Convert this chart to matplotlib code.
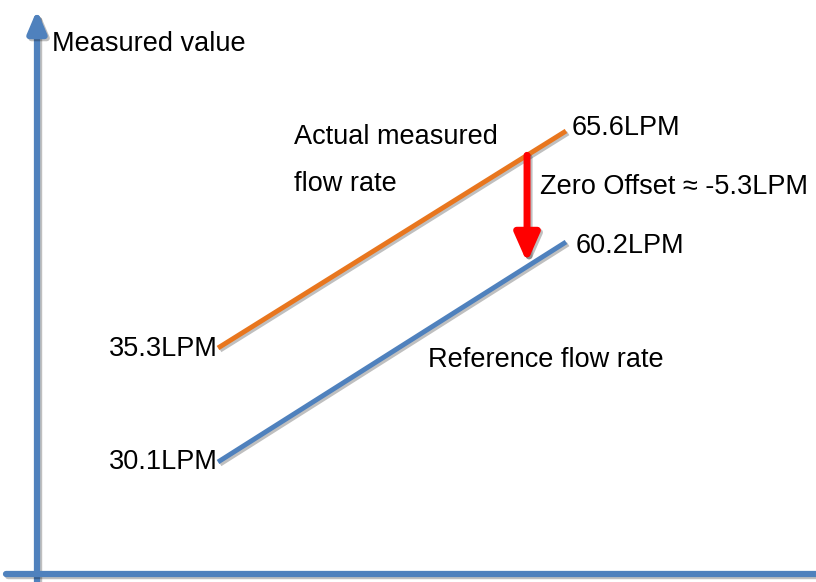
"""Zero offset sketch: actual vs reference flow rate, two parallel lines with an offset arrow."""

import matplotlib
matplotlib.use("Agg")
import matplotlib.pyplot as plt
import matplotlib.patheffects as pe
import numpy as np

# endpoints along the (unlabelled) x direction
T = [0.0, 1.0]
ACTUAL_LPM = [35.3, 65.6]
REFERENCE_LPM = [30.1, 60.2]
OFFSET_LPM = -5.3
ARROW_T = 0.888

ORANGE = "#E8761E"
BLUE = "#4F81BD"
RED = "#FF0000"

W, H = 816, 582

# schematic y scale: stretch the gap between the two lines so the offset reads clearly
SCALE_V = [0.0, 30.1, 35.3, 60.2, 65.6, 100.0]
SCALE_H = [120, 120, 234, 340, 451, 451]
SCALE_H[0] = 120 - 30.1 * (114 / 5.2)
SCALE_H[-1] = 451 + 34.4 * (111 / 5.4)


def fwd(v):
    return np.interp(v, SCALE_V, SCALE_H)


def inv(h):
    return np.interp(h, SCALE_H, SCALE_V)


def on_line(t, vals):
    # point on the drawn (straight in display) segment
    return float(inv(np.interp(t, T, fwd(vals))))


def frac(x, y):
    return x / W, 1 - y / H


def main():
    plt.rcParams["font.family"] = ["Liberation Sans", "DejaVu Sans"]
    fig = plt.figure(figsize=(W / 100, H / 100), dpi=100)
    ax = fig.add_axes([0, 0, 1, 1])
    ax.set_yscale("function", functions=(fwd, inv))
    x0, x1 = 218, 566
    ax.set_xlim(-x0 / (x1 - x0), (W - x0) / (x1 - x0))
    ax.set_ylim(inv(0), inv(H))
    ax.axis("off")

    shadow = [pe.SimpleLineShadow(offset=(1.5, -1.5), shadow_color="black", alpha=0.25),
              pe.Normal()]

    # axes drawn as arrows (x arrow head runs off the right edge)
    axis_props = dict(arrowstyle="-|>,head_length=1.3,head_width=0.55", color=BLUE,
                      lw=4.5, shrinkA=0, shrinkB=0, path_effects=shadow)
    ax.annotate("", xy=frac(37, 10), xytext=frac(37, H + 5),
                xycoords="axes fraction", textcoords="axes fraction",
                arrowprops=axis_props)
    ax.annotate("", xy=frac(W + 60, 574), xytext=frac(6, 574),
                xycoords="axes fraction", textcoords="axes fraction",
                arrowprops=axis_props, annotation_clip=False)

    ax.plot(T, ACTUAL_LPM, color=ORANGE, lw=3.5, solid_capstyle="butt", path_effects=shadow)
    ax.plot(T, REFERENCE_LPM, color=BLUE, lw=3.5, solid_capstyle="butt", path_effects=shadow)

    # offset arrow from actual down to reference
    y_top = on_line(ARROW_T, ACTUAL_LPM)
    y_bot = on_line(ARROW_T, REFERENCE_LPM)
    ax.annotate("", xy=(ARROW_T, y_bot), xytext=(ARROW_T, y_top),
                arrowprops=dict(arrowstyle="-|>,head_length=1.7,head_width=0.75",
                                color=RED, lw=5, shrinkA=0, shrinkB=-3,
                                path_effects=shadow))

    fs = 19.5
    ax.annotate(f"{ACTUAL_LPM[0]:.1f}LPM", (T[0], ACTUAL_LPM[0]), xytext=(0, -1),
                textcoords="offset points", ha="right", va="center", fontsize=fs)
    ax.annotate(f"{REFERENCE_LPM[0]:.1f}LPM", (T[0], REFERENCE_LPM[0]), xytext=(0, 0),
                textcoords="offset points", ha="right", va="center", fontsize=fs)
    ax.annotate(f"{ACTUAL_LPM[1]:.1f}LPM", (T[1], ACTUAL_LPM[1]), xytext=(4, 2),
                textcoords="offset points", ha="left", va="center", fontsize=fs)
    ax.annotate(f"{REFERENCE_LPM[1]:.1f}LPM", (T[1], REFERENCE_LPM[1]), xytext=(7, -3),
                textcoords="offset points", ha="left", va="center", fontsize=fs)

    ax.text(*frac(52, 44), "Measured value", transform=ax.transAxes,
            ha="left", va="center", fontsize=fs)
    ax.text(*frac(294, 137), "Actual measured", transform=ax.transAxes,
            ha="left", va="center", fontsize=fs)
    ax.text(*frac(294, 184), "flow rate", transform=ax.transAxes,
            ha="left", va="center", fontsize=fs)
    ax.text(*frac(428, 360), "Reference flow rate", transform=ax.transAxes,
            ha="left", va="center", fontsize=fs)
    ax.text(*frac(540, 187), f"Zero Offset \u2248 {OFFSET_LPM:.1f}LPM", transform=ax.transAxes,
            ha="left", va="center", fontsize=fs)

    fig.savefig("out.png", dpi=100)
    plt.close(fig)


if __name__ == "__main__":
    main()
